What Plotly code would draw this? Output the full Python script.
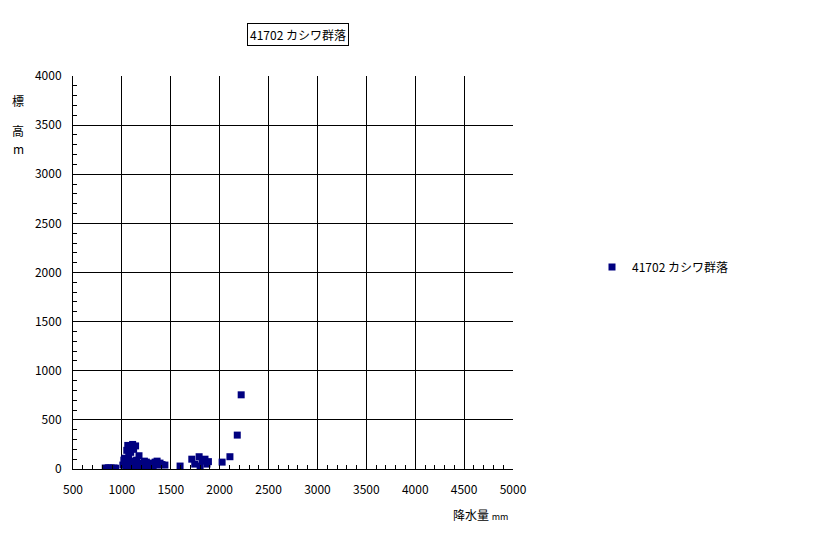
import plotly.graph_objects as go

series_name = "41702 カシワ群落"
precip = [830, 845, 860, 875, 890, 905, 920, 935,
          1010, 1020, 1030, 1040, 1050, 1055, 1060, 1065, 1070, 1080, 1090, 1095,
          1100, 1110, 1115, 1120, 1130, 1140, 1150, 1160, 1175, 1200, 1215, 1230,
          1250, 1265, 1285, 1300, 1320, 1340, 1360, 1375, 1390, 1410, 1440,
          1595, 1715, 1745, 1790, 1800, 1820, 1850, 1870, 1885,
          2025, 2105, 2180, 2220]
elev = [10, 5, 12, 8, 10, 5, 10, 8,
        40, 90, 110, 20, 190, 60, 240, 10, 130, 30, 170, 80,
        15, 250, 50, 200, 30, 235, 90, 10, 135, 60, 30, 80,
        70, 20, 60, 40, 20, 70, 80, 40, 60, 45, 40,
        30, 100, 50, 125, 30, 80, 100, 50, 75,
        70, 125, 345, 755]
x_ticks = [500, 1000, 1500, 2000, 2500, 3000, 3500, 4000, 4500, 5000]
y_ticks = [0, 500, 1000, 1500, 2000, 2500, 3000, 3500, 4000]

FONT = "Noto Sans CJK JP, DejaVu Sans, sans-serif"

fig = go.Figure()
fig.add_trace(go.Scatter(
    x=precip, y=elev, mode="markers", name=series_name,
    marker=dict(symbol="square", size=7, color="#000080", line=dict(width=0)),
))

axis_common = dict(
    showgrid=True, gridcolor="black", gridwidth=1,
    showline=True, linecolor="black", linewidth=1, mirror=False,
    ticks="inside", ticklen=4, tickcolor="black",
    tickfont=dict(family=FONT, size=12, color="black"),
    zeroline=False,
)
fig.update_xaxes(range=[500, 5000], tickvals=x_ticks, ticktext=[str(v) for v in x_ticks],
                 minor=dict(dtick=100, tick0=500, ticks="inside", ticklen=4, tickcolor="black", showgrid=False),
                 ticklabelstandoff=10, **axis_common)
fig.update_yaxes(range=[0, 4000], tickvals=y_ticks, ticktext=[str(v) for v in y_ticks],
                 minor=dict(dtick=100, tick0=0, ticks="inside", ticklen=4, tickcolor="black", showgrid=False),
                 ticklabelstandoff=8, **axis_common)

annotations = [
    dict(text=series_name, x=298, y=34, showarrow=False,
         font=dict(family=FONT, size=12, color="black"), bordercolor="black", borderwidth=1,
         borderpad=2, bgcolor="white"),
    dict(text="降水量 <span style='font-size:9px'>mm</span>", x=480, y=514, showarrow=False,
         font=dict(family=FONT, size=12, color="black")),
    dict(text="標", x=18, y=100, showarrow=False, font=dict(family=FONT, size=12, color="black")),
    dict(text="高", x=18, y=130, showarrow=False, font=dict(family=FONT, size=12, color="black")),
    dict(text="m", x=18, y=148, showarrow=False, font=dict(family=FONT, size=12, color="black")),
]
# convert pixel positions to paper coordinates
L, R, T, B, W, H = 73, 303, 76, 65, 816, 534
pw, ph = W - L - R, H - T - B
for a in annotations:
    px, py = a["x"], a["y"]
    a["x"] = (px - L) / pw
    a["y"] = (H - B - py) / ph
    a["xref"] = "paper"
    a["yref"] = "paper"
    a["xanchor"] = "center"
    a["yanchor"] = "middle"

fig.update_layout(
    width=W, height=H,
    margin=dict(l=L, r=R, t=T, b=B, autoexpand=False),
    paper_bgcolor="white", plot_bgcolor="white",
    showlegend=True,
    legend=dict(x=(592 - L) / pw, y=(H - B - 267) / ph, xref="paper", yref="paper",
                xanchor="left", yanchor="middle", bgcolor="rgba(0,0,0,0)",
                font=dict(family=FONT, size=12, color="black"),
                itemwidth=30, tracegroupgap=0),
    annotations=annotations,
    font=dict(family=FONT, color="black"),
)

fig.write_html("out.html", config={"displayModeBar": False},
               post_script="document.body.style.margin='0';")
